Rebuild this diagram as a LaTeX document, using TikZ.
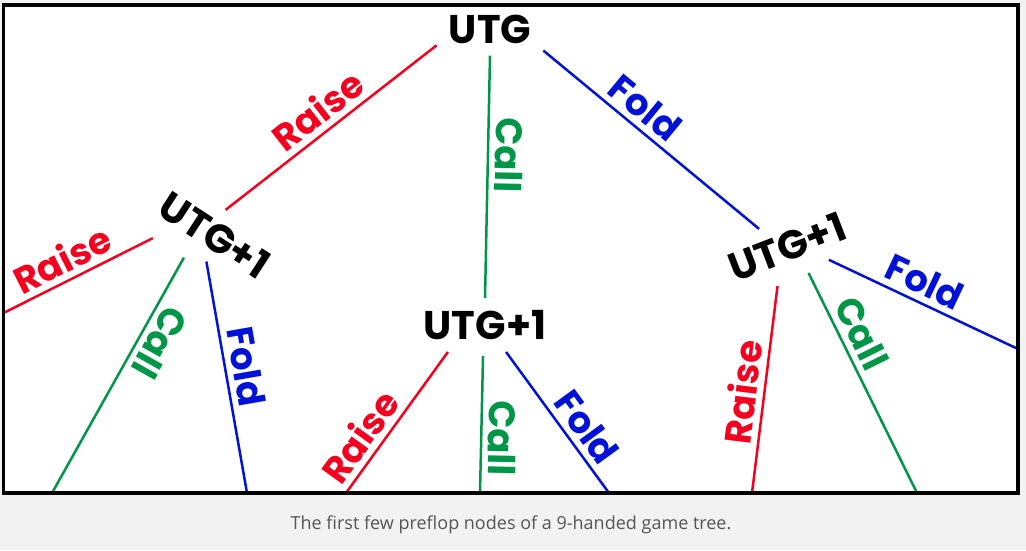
\documentclass[tikz,border=0pt]{standalone}
\usepackage{fontspec}
\setmainfont{Poppins}
\newfontfamily\captionfont{Open Sans}
\usetikzlibrary{positioning}
\definecolor{raisered}{RGB}{245,0,30}
\definecolor{callgreen}{RGB}{0,150,72}
\definecolor{foldblue}{RGB}{0,18,214}
\definecolor{pagegray}{RGB}{242,242,242}
\definecolor{captiongray}{RGB}{85,85,85}

\begin{document}
\begin{tikzpicture}[x=1pt, y=1pt, on grid,
    player/.style={font=\bfseries\fontsize{40}{40}\selectfont, inner sep=12pt},
    act/.style={font=\bfseries\fontsize{37}{37}\selectfont, inner sep=0pt, sloped, above=6pt},
    raise/.style={draw, raisered, line width=2.5pt},
    call/.style={draw, callgreen, line width=2.5pt},
    fold/.style={draw, foldblue, line width=2.5pt}]

    % page and white panel
    \fill [pagegray] (0,0) rectangle (1026,-550);
    \fill [white] (3.5,-5) rectangle (1018,-493);
    \useasboundingbox (0,0) rectangle (1026,-550);

    \node [player] (utg) at (490,-29) {UTG};
    \node [player, below left=206pt and 275pt of utg, rotate=-33] (utgL) {UTG+1};
    \node [player, below=296pt of utg, xshift=-5pt] (utgM) {UTG+1};
    \node [player, below right=218pt and 297pt of utg, rotate=21] (utgR) {UTG+1};

    % loose ends on the frame
    \coordinate (lRaise) at (3.5,-313);
    \coordinate (lCall) at (52,-493);
    \coordinate (lFold) at (247,-493);
    \coordinate (mRaise) at (346,-493);
    \coordinate (mCall) at (480,-493);
    \coordinate (mFold) at (609,-493);
    \coordinate (rRaise) at (752,-493);
    \coordinate (rCall) at (917,-493);
    \coordinate (rFold) at (1018,-349);

    \path [raise] (utg.197) -- node [act, pos=.5] {Raise} (utgL.100);
    \path [call] (utg.south) -- node [act, pos=.41, allow upside down] {Call} (utgM.north);
    \path [fold] (utg.338) -- node [act, pos=.41] {Fold} (utgR.126);

    \path [raise, shorten <=11pt] (utgL.211) -- node [act, pos=.57] {Raise} (lRaise);
    \path [call, shorten <=9pt] (utgL.242) -- node [act, pos=.34, allow upside down] {Call} (lCall);
    \path [fold] (utgL.285) -- node [act, pos=.47] {Fold} (lFold);

    \path [raise] (utgM.216) -- node [act, pos=.69] {Raise} (mRaise);
    \path [call, shorten <=4pt] (utgM.266) -- node [act, pos=.61, allow upside down] {Call} (mCall);
    \path [fold] (utgM.308) -- node [act, pos=.62] {Fold} (mFold);

    \path [raise, shorten <=7pt] (utgR.234) -- node [act, pos=.54] {Raise} (rRaise);
    \path [call, shorten <=5pt] (utgR.291) -- node [act, pos=.33] {Call} (rCall);
    \path [fold] (utgR.322) -- node [act, pos=.46] {Fold} (rFold);

    \draw [line width=3.5pt] (3.5,-5) rectangle (1018,-493);
    \node [font=\captionfont\fontsize{18}{18}\selectfont, text=captiongray, anchor=base] (caption) at (511,-529) {The first few preflop nodes of a 9-handed game tree.};
\end{tikzpicture}
\end{document}
